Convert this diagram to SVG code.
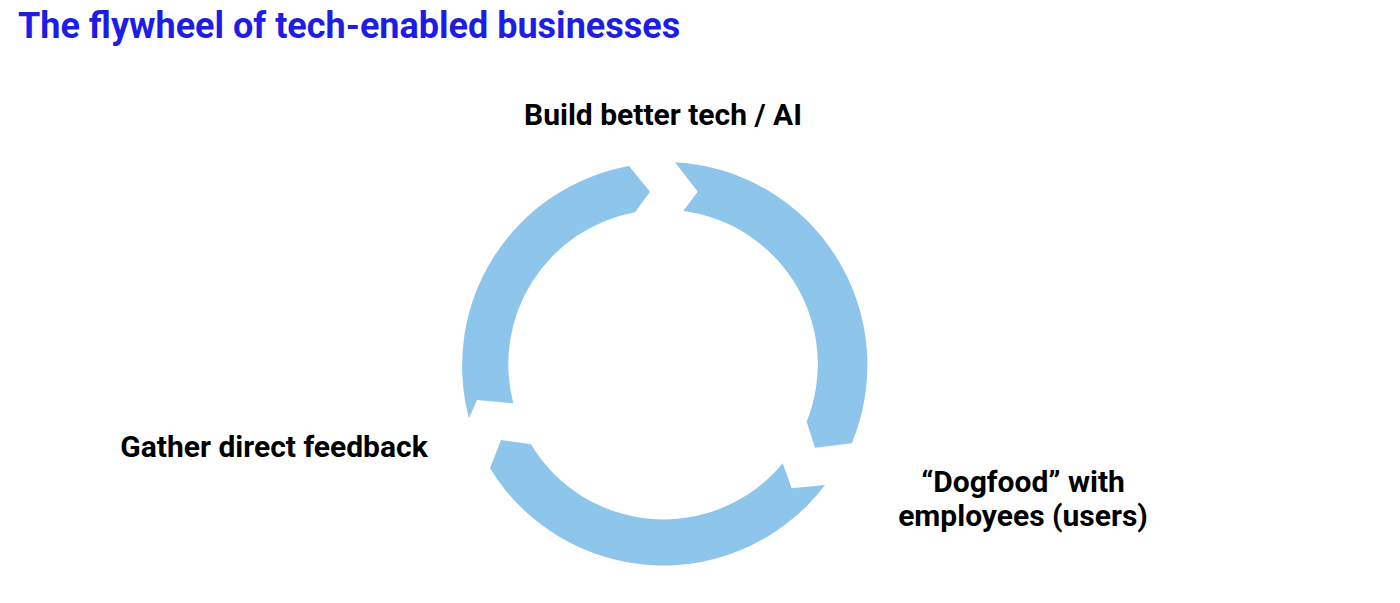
<svg xmlns="http://www.w3.org/2000/svg" width="1400" height="603" viewBox="0 0 1400 603">
<style>
.arc{fill:#8ec5ea;stroke:none}
.lbl{font-family:Roboto,"Liberation Sans",sans-serif;font-weight:bold;font-size:30px;fill:#000}
.title{font-family:Roboto,"Liberation Sans",sans-serif;font-weight:bold;font-size:36px;fill:#1d1de6}
</style>
<rect width="1400" height="603" fill="#fff"/>
<text class="title" x="18" y="38">The flywheel of tech-enabled businesses</text>
<g id="connectors">
<path id="arc-top-right" class="arc" d="M675,162.3 A203,203 0 0 1 851.7,443.3 L815,447.7 L806.7,421.7 A154.5,154.5 0 0 0 683.3,211 L697.7,191.7 Z"/>
<path id="arc-bottom" class="arc" d="M825,485 A203,203 0 0 1 490,468.3 L501,440 L531,444.3 A154.5,154.5 0 0 0 782.7,463.3 L791.7,488.3 Z"/>
<path id="arc-left" class="arc" d="M469,418.3 A203,203 0 0 1 629,166 L650,191.7 L635,212.3 A154.5,154.5 0 0 0 513.3,403.3 L477,400 Z"/>
</g>
<g id="node-build">
<text class="lbl" x="663" y="125" text-anchor="middle">Build better tech / AI</text>
</g>
<g id="node-dogfood">
<text class="lbl" x="1023" y="492" text-anchor="middle">“Dogfood” with</text>
<text class="lbl" x="1023" y="526" text-anchor="middle">employees (users)</text>
</g>
<g id="node-feedback">
<text class="lbl" x="274" y="457" text-anchor="middle">Gather direct feedback</text>
</g>
</svg>
